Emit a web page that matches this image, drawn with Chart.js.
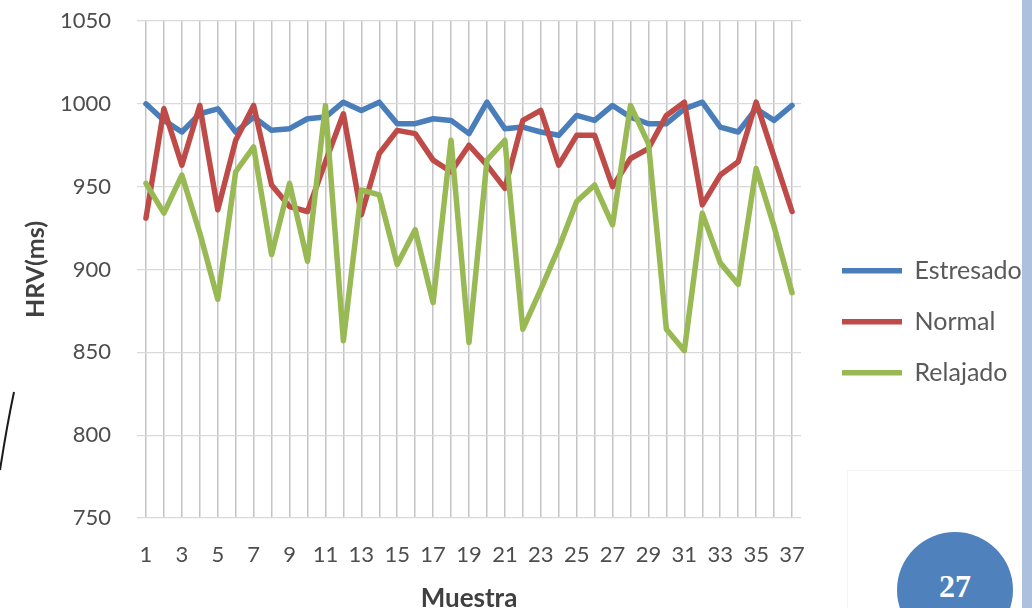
<!DOCTYPE html>
<html lang="es">
<head>
<meta charset="utf-8">
<title>HRV por muestra</title>
<script src="https://cdn.jsdelivr.net/npm/chart.js@4/dist/chart.umd.min.js"></script>
<style>
  html, body { margin: 0; padding: 0; background: #ffffff; overflow: hidden; }
  #wrap { position: relative; width: 1032px; height: 620px; }
  #chartBox { position: absolute; left: 0; top: 0; width: 1032px; height: 620px; }
  #sideBar { position: absolute; left: 1022px; top: 0; width: 10px; height: 620px; background: #adc0dd; }
  #panel { position: absolute; left: 847px; top: 470px; width: 175px; height: 150px;
           border-left: 1px solid #f3f3f3; border-top: 1px solid #f3f3f3; }
  #badge { position: absolute; left: 897px; top: 532px; width: 116px; height: 116px; border-radius: 50%;
           background: #4f81bd; color: #ffffff; font: bold 32px "Liberation Serif", "DejaVu Serif", serif;
           text-align: center; line-height: 108px; }
  #arc { position: absolute; left: 0; top: 380px; }
</style>
</head>
<body>
<div id="wrap">
  <div id="panel"></div>
  <div id="chartBox"><canvas id="hrv"></canvas></div>
  <div id="sideBar"></div>
  <svg id="arc" width="20" height="100"><path d="M14 12 Q7 45 0 90" fill="none" stroke="#1a1a1a" stroke-width="2"/></svg>
  <div id="badge">27</div>
</div>
<script>
// Muestras 1..37
const muestras = Array.from({length: 37}, (_, i) => String(i + 1));

// HRV (ms) por estado
const estresado = [1000, 990, 983, 994, 997, 983, 992, 984, 985, 991, 992, 1001, 996, 1001, 988, 988, 991, 990, 982, 1001,
                   985, 986, 983, 981, 993, 990, 999, 992, 988, 988, 997, 1001, 986, 983, 997, 990, 999];
const normal    = [931, 997, 963, 999, 936, 978, 999, 951, 938, 935, 965, 994, 933, 970, 984, 982, 966, 959, 975, 963,
                   949, 990, 996, 963, 981, 981, 950, 967, 973, 993, 1001, 939, 957, 965, 1001, 968, 935];
const relajado  = [952, 934, 957, 922, 882, 959, 974, 909, 952, 905, 999, 857, 948, 945, 903, 924, 880, 978, 856, 966,
                   978, 864, 888, 913, 941, 951, 927, 999, 976, 864, 851, 934, 904, 891, 961, 926, 886];

const yTicks = {min: 750, max: 1050, step: 50};
const seriesNames = ['Estresado', 'Normal', 'Relajado'];
const seriesColors = ['#4a7ebb', '#be4b48', '#98b954'];

// Layout sizes (px)
const W = 1032, H = 620;
const plotLeft = 137, plotRight = 801, plotTop = 21, plotBottom = 518;
const legendFont = 25, legendPad = 26, legendLine = 60, legendLeft = 816;

// Width of the right-hand legend box, measured with the same font the legend uses
const mctx = document.createElement('canvas').getContext('2d');
mctx.font = 'normal ' + legendFont + 'px Lato';
const maxText = Math.max(...seriesNames.map(s => mctx.measureText(s).width));
const legendWidth = legendPad + legendLine + legendFont / 2 + maxText + 10;
const padRight = Math.max(0, W - legendLeft - legendWidth);

const datasets = [estresado, normal, relajado].map((vals, i) => ({
  label: seriesNames[i],
  data: vals,
  borderColor: seriesColors[i],
  backgroundColor: seriesColors[i],
  borderWidth: 5.5,
  pointRadius: 0,
  tension: 0,
  borderJoinStyle: 'round',
  borderCapStyle: 'round',
  order: 3 - i,
  yAxisID: 'y'
}));

new Chart(document.getElementById('hrv'), {
  type: 'line',
  data: { labels: muestras, datasets },
  options: {
    responsive: true,
    maintainAspectRatio: false,
    animation: false,
    layout: { padding: { left: 0, top: plotTop, bottom: 0, right: padRight } },
    plugins: {
      tooltip: { enabled: false },
      legend: {
        position: 'right',
        align: 'center',
        maxWidth: 400,
        title: { display: true, text: ' ', font: { size: 2 }, padding: 0 },
        labels: {
          usePointStyle: true,
          pointStyle: 'line',
          pointStyleWidth: legendLine,
          padding: legendPad,
          color: '#595959',
          font: { family: 'Lato', size: legendFont },
          sort: (a, b) => a.datasetIndex - b.datasetIndex
        }
      }
    },
    scales: {
      x: {
        type: 'category',
        offset: true,
        grid: { display: true, offset: false, color: '#c4c4c8', lineWidth: 1.5, drawTicks: false },
        border: { display: false },
        ticks: {
          autoSkip: false,
          maxRotation: 0,
          padding: 24,
          color: '#4d4d4d',
          font: { family: 'Lato', size: 22 },
          callback: function (v, i) { return i % 2 === 0 ? this.getLabelForValue(v) : ''; }
        },
        title: {
          display: true, text: 'Muestra', color: '#404040',
          font: { family: 'Lato', size: 26, weight: 'bold' },
          padding: { top: 0, bottom: 6 }
        },
        afterFit: s => { s.height = H - plotBottom; }
      },
      y: {
        position: 'left',
        min: yTicks.min,
        max: yTicks.max,
        grid: { color: '#d9d9d9', lineWidth: 1.2, drawTicks: false },
        border: { display: false },
        ticks: {
          stepSize: yTicks.step,
          padding: 26,
          color: '#4d4d4d',
          font: { family: 'Lato', size: 22 },
          callback: v => String(v)
        },
        title: {
          display: true, text: 'HRV(ms)', color: '#404040',
          font: { family: 'Lato', size: 25, weight: 'bold' },
          padding: { top: 21, bottom: 0 }
        },
        afterFit: s => { s.width = plotLeft; s.paddingTop = 0; s.paddingBottom = 0; }
      },
      gap: {
        type: 'linear',
        position: 'right',
        display: true,
        grid: { display: false },
        border: { display: false },
        ticks: { display: false },
        afterFit: s => { s.width = legendLeft - plotRight; }
      }
    }
  }
});
</script>
</body>
</html>
